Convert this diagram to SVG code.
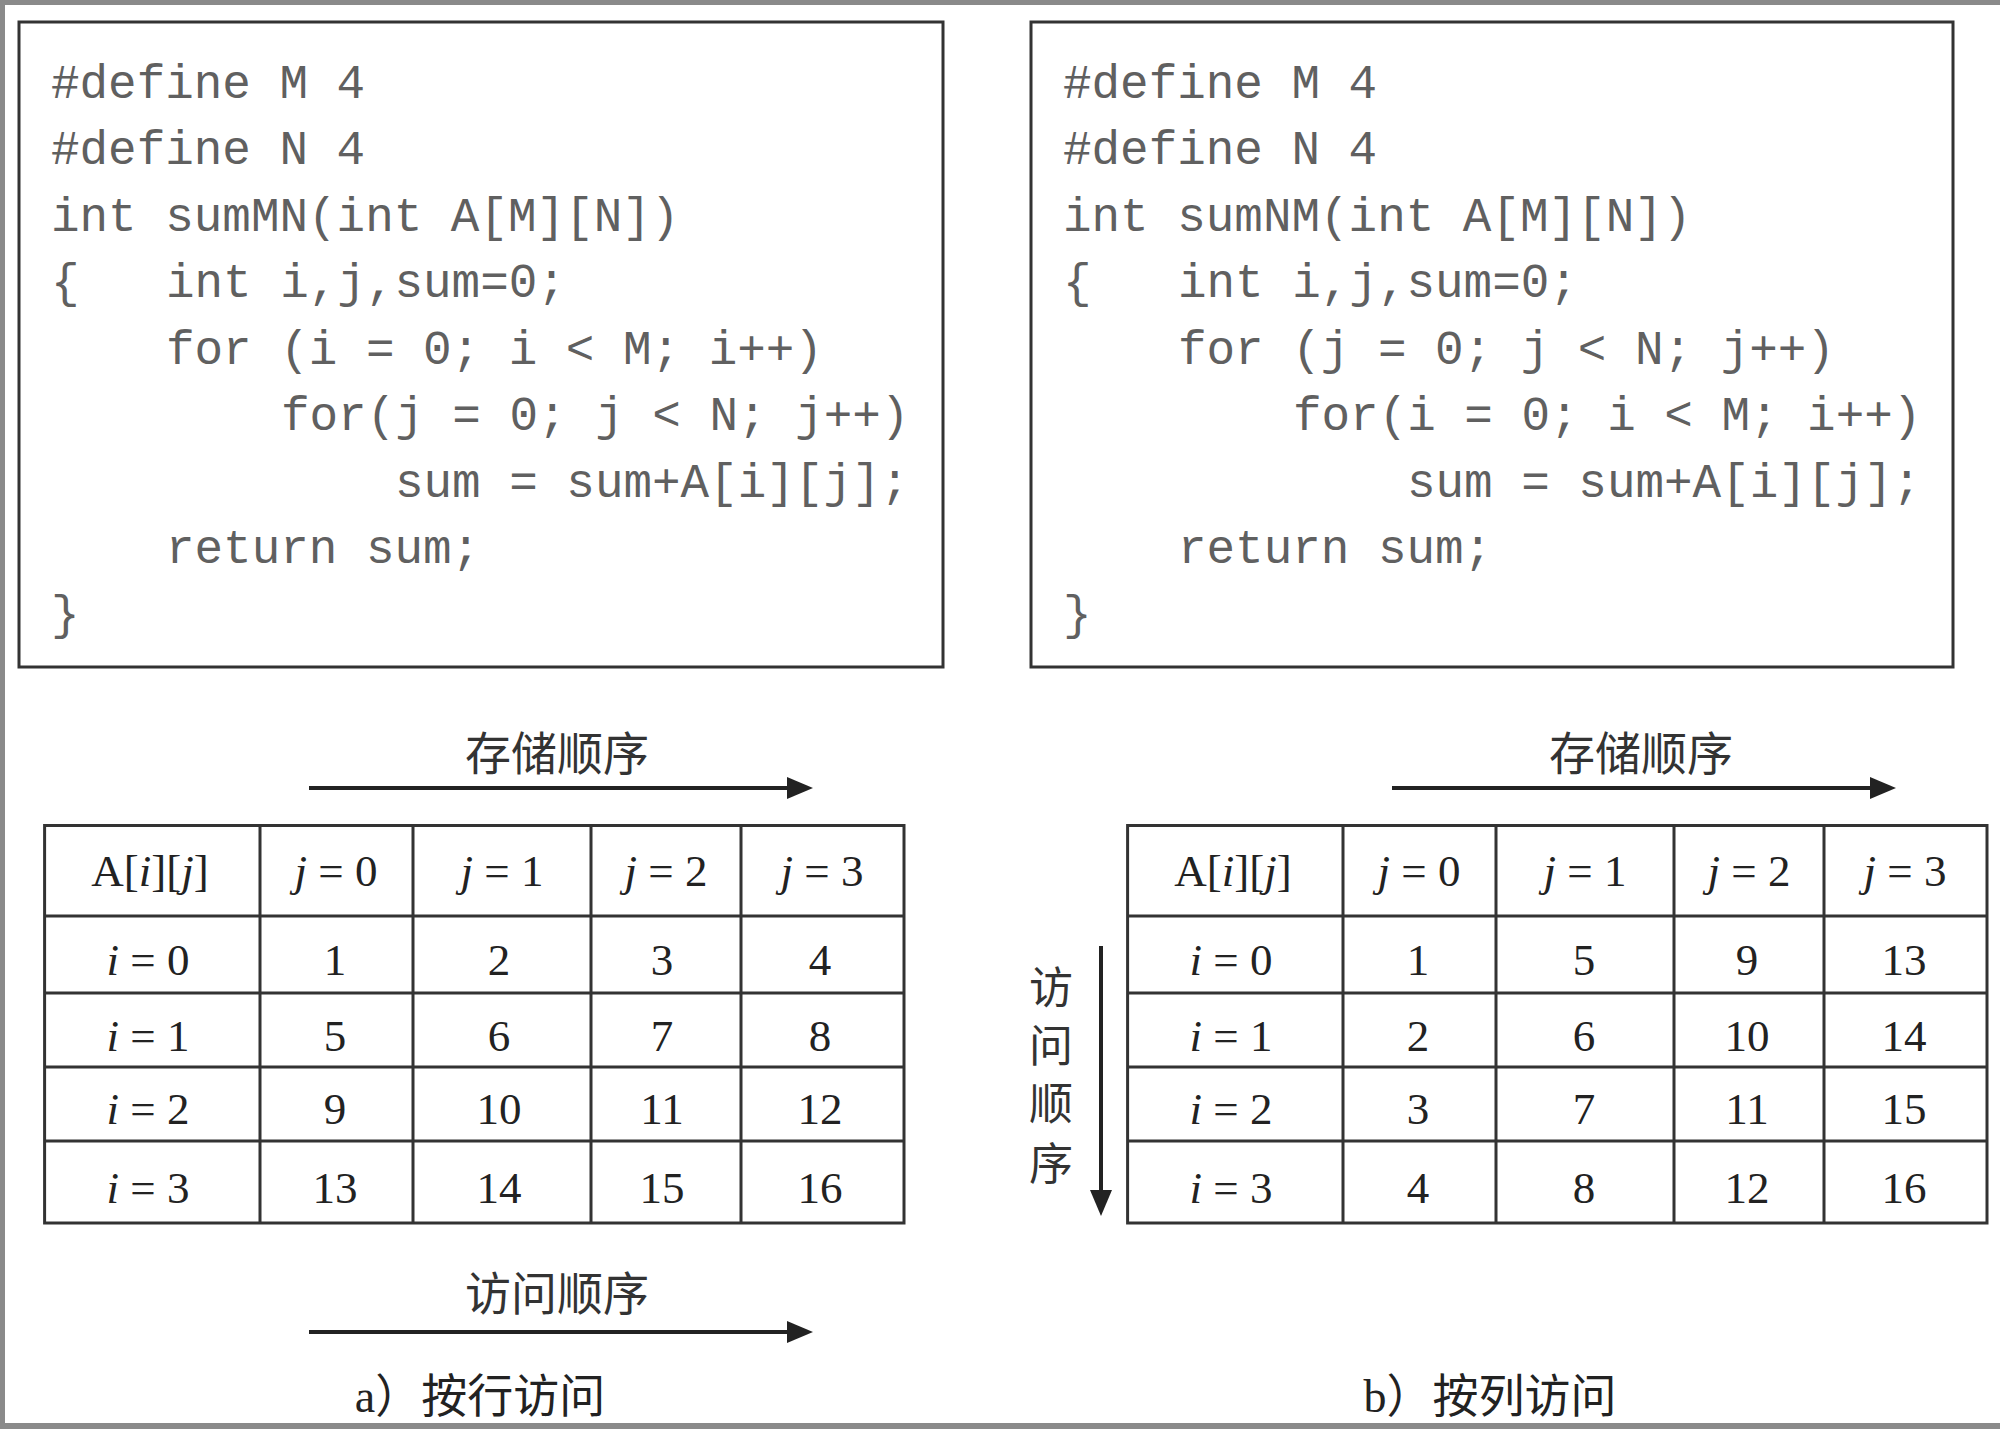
<svg xmlns="http://www.w3.org/2000/svg" width="2000" height="1429" viewBox="0 0 2000 1429">
<style>
.box{fill:none;stroke:#333;stroke-width:3}
.code{font-family:"Liberation Mono","DejaVu Sans Mono",monospace;font-size:47.6px;fill:#606060}
.grid{fill:none;stroke:#333;stroke-width:3}
.cell{font-family:"Liberation Serif","Times New Roman",serif;font-size:45px;fill:#222;text-anchor:middle}
.it{font-style:italic}
.cjk{font-family:"Noto Sans CJK SC",sans-serif;font-size:46px;fill:#333;text-anchor:middle}
.vcjk{font-family:"Noto Sans CJK SC",sans-serif;font-size:44px;fill:#333;text-anchor:middle}
.cap{font-family:"Liberation Serif","Noto Sans CJK SC",serif;font-size:46px;fill:#222;text-anchor:middle}
.arrow{stroke:#222;stroke-width:4;fill:none}
.frame{fill:#8a8a8a}
</style>
<defs>
<marker id="ah" markerWidth="26" markerHeight="22" viewBox="0 0 26 22" refX="1" refY="11" orient="auto" markerUnits="userSpaceOnUse">
<path d="M0,0 L26,11 L0,22 z" fill="#222"/>
</marker>
</defs>
<rect x="0" y="0" width="2000" height="1429" fill="#fff"/>
<g id="page-frame">
<rect class="frame" x="0" y="0" width="2000" height="5"/>
<rect class="frame" x="0" y="0" width="5" height="1429"/>
<rect class="frame" x="0" y="1423" width="2000" height="6"/>
</g>

<g id="code-left">
<rect class="box" x="19" y="22" width="924" height="645"/>
<text class="code" x="51" y="98">#define M 4</text>
<text class="code" x="51" y="164">#define N 4</text>
<text class="code" x="51" y="231">int sumMN(int A[M][N])</text>
<text class="code" x="51" y="297">{</text>
<text class="code" x="166" y="297">int i,j,sum=0;</text>
<text class="code" x="166" y="364">for (i = 0; i &lt; M; i++)</text>
<text class="code" x="281" y="430">for(j = 0; j &lt; N; j++)</text>
<text class="code" x="395" y="497">sum = sum+A[i][j];</text>
<text class="code" x="166" y="563">return sum;</text>
<text class="code" x="51" y="629">}</text>
</g>

<g id="code-right">
<rect class="box" x="1031" y="22" width="922" height="645"/>
<text class="code" x="1063" y="98">#define M 4</text>
<text class="code" x="1063" y="164">#define N 4</text>
<text class="code" x="1063" y="231">int sumNM(int A[M][N])</text>
<text class="code" x="1063" y="297">{</text>
<text class="code" x="1178" y="297">int i,j,sum=0;</text>
<text class="code" x="1178" y="364">for (j = 0; j &lt; N; j++)</text>
<text class="code" x="1293" y="430">for(i = 0; i &lt; M; i++)</text>
<text class="code" x="1407" y="497">sum = sum+A[i][j];</text>
<text class="code" x="1178" y="563">return sum;</text>
<text class="code" x="1063" y="629">}</text>
</g>

<g id="table-left">
<rect class="grid" x="44.6" y="825.5" width="859.4" height="397.5"/>
<path class="grid" d="M260,825.5V1223 M413,825.5V1223 M591,825.5V1223 M741,825.5V1223 M44.6,916H904 M44.6,993H904 M44.6,1067H904 M44.6,1141H904"/>
<text class="cell" x="150" y="886">A[<tspan class="it">i</tspan>][<tspan class="it">j</tspan>]</text>
<text class="cell" x="336" y="886"><tspan class="it">j</tspan> = 0</text>
<text class="cell" x="502" y="886"><tspan class="it">j</tspan> = 1</text>
<text class="cell" x="666" y="886"><tspan class="it">j</tspan> = 2</text>
<text class="cell" x="822" y="886"><tspan class="it">j</tspan> = 3</text>
<text class="cell" x="148" y="975"><tspan class="it">i</tspan> = 0</text>
<text class="cell" x="148" y="1051"><tspan class="it">i</tspan> = 1</text>
<text class="cell" x="148" y="1124"><tspan class="it">i</tspan> = 2</text>
<text class="cell" x="148" y="1203"><tspan class="it">i</tspan> = 3</text>
<text class="cell" x="335" y="975">1</text>
<text class="cell" x="499" y="975">2</text>
<text class="cell" x="662" y="975">3</text>
<text class="cell" x="820" y="975">4</text>
<text class="cell" x="335" y="1051">5</text>
<text class="cell" x="499" y="1051">6</text>
<text class="cell" x="662" y="1051">7</text>
<text class="cell" x="820" y="1051">8</text>
<text class="cell" x="335" y="1124">9</text>
<text class="cell" x="499" y="1124">10</text>
<text class="cell" x="662" y="1124">11</text>
<text class="cell" x="820" y="1124">12</text>
<text class="cell" x="335" y="1203">13</text>
<text class="cell" x="499" y="1203">14</text>
<text class="cell" x="662" y="1203">15</text>
<text class="cell" x="820" y="1203">16</text>
</g>

<g id="table-right">
<rect class="grid" x="1127.6" y="825.5" width="859.4" height="397.5"/>
<path class="grid" d="M1343,825.5V1223 M1496,825.5V1223 M1674,825.5V1223 M1824,825.5V1223 M1127.6,916H1987 M1127.6,993H1987 M1127.6,1067H1987 M1127.6,1141H1987"/>
<text class="cell" x="1233" y="886">A[<tspan class="it">i</tspan>][<tspan class="it">j</tspan>]</text>
<text class="cell" x="1419" y="886"><tspan class="it">j</tspan> = 0</text>
<text class="cell" x="1585" y="886"><tspan class="it">j</tspan> = 1</text>
<text class="cell" x="1749" y="886"><tspan class="it">j</tspan> = 2</text>
<text class="cell" x="1905" y="886"><tspan class="it">j</tspan> = 3</text>
<text class="cell" x="1231" y="975"><tspan class="it">i</tspan> = 0</text>
<text class="cell" x="1231" y="1051"><tspan class="it">i</tspan> = 1</text>
<text class="cell" x="1231" y="1124"><tspan class="it">i</tspan> = 2</text>
<text class="cell" x="1231" y="1203"><tspan class="it">i</tspan> = 3</text>
<text class="cell" x="1418" y="975">1</text>
<text class="cell" x="1584" y="975">5</text>
<text class="cell" x="1747" y="975">9</text>
<text class="cell" x="1904" y="975">13</text>
<text class="cell" x="1418" y="1051">2</text>
<text class="cell" x="1584" y="1051">6</text>
<text class="cell" x="1747" y="1051">10</text>
<text class="cell" x="1904" y="1051">14</text>
<text class="cell" x="1418" y="1124">3</text>
<text class="cell" x="1584" y="1124">7</text>
<text class="cell" x="1747" y="1124">11</text>
<text class="cell" x="1904" y="1124">15</text>
<text class="cell" x="1418" y="1203">4</text>
<text class="cell" x="1584" y="1203">8</text>
<text class="cell" x="1747" y="1203">12</text>
<text class="cell" x="1904" y="1203">16</text>
</g>

<g id="connectors">
<line class="arrow" x1="309" y1="788" x2="788" y2="788" marker-end="url(#ah)"/>
<line class="arrow" x1="309" y1="1332" x2="788" y2="1332" marker-end="url(#ah)"/>
<line class="arrow" x1="1392" y1="788" x2="1871" y2="788" marker-end="url(#ah)"/>
<line class="arrow" x1="1101" y1="946" x2="1101" y2="1191" marker-end="url(#ah)"/>
</g>

<g id="labels">
<text class="cjk" x="557" y="770">存储顺序</text>
<text class="cjk" x="557" y="1310">访问顺序</text>
<text class="cjk" x="1641" y="770">存储顺序</text>
<text class="vcjk" x="1051" y="1004">访</text>
<text class="vcjk" x="1051" y="1062">问</text>
<text class="vcjk" x="1051" y="1120">顺</text>
<text class="vcjk" x="1051" y="1180">序</text>
<text class="cap" x="480" y="1412">a）按行访问</text>
<text class="cap" x="1490" y="1412">b）按列访问</text>
</g>
</svg>
